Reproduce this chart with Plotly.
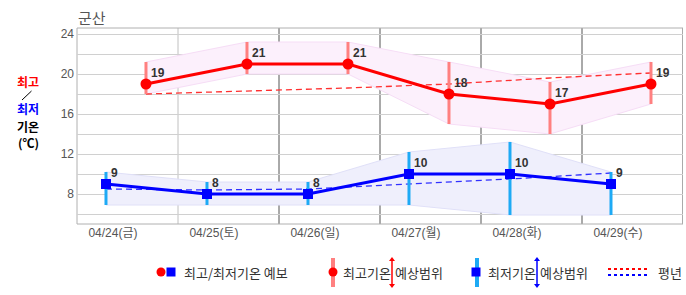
import plotly.graph_objects as go

# ---------------- data ----------------
dates = ["04/24(금)", "04/25(토)", "04/26(일)", "04/27(월)", "04/28(화)", "04/29(수)"]
max_temp = [19, 21, 21, 18, 17, 19]
min_temp = [9, 8, 8, 10, 10, 9]
max_upper = [21.2, 23.2, 23.2, 21.2, 19.2, 21.2]
max_lower = [18.0, 20.0, 20.0, 15.0, 14.0, 17.0]
min_upper = [10.2, 9.2, 9.2, 12.2, 13.2, 10.2]
min_lower = [6.9, 6.9, 6.9, 6.9, 5.9, 5.9]
normal_max = [18.0, 18.3, 18.6, 19.0, 19.6, 20.1]
normal_min = [8.5, 8.4, 8.5, 9.0, 9.5, 10.1]
y_ticks = [8, 12, 16, 20, 24]

# ---------------- layout helpers ----------------
W, H = 686, 295
L, R, T, B = 77, 683, 28, 224
def PX(x):
    return (x - L) / (R - L)
def PY(y):
    return (B - y) / (B - T)

n = len(dates)
idx = list(range(n))
x_max = [i + 0.683 for i in idx]
x_min = [i + 0.287 for i in idx]
x_lab = [i + 0.356 for i in idx]

RED = "#ff0000"
BLUE = "#0000ff"
PINK_BAR = "#ff8080"
CYAN_BAR = "#1eaaf5"

fig = go.Figure()

# bands
fig.add_trace(go.Scatter(
    x=x_max + x_max[::-1], y=max_upper + max_lower[::-1],
    fill="toself", fillcolor="#fcf0fc", mode="lines",
    line=dict(color="#f6ddf6", width=1), hoverinfo="skip", showlegend=False))
fig.add_trace(go.Scatter(
    x=x_min + x_min[::-1], y=min_upper + min_lower[::-1],
    fill="toself", fillcolor="#efeffc", mode="lines",
    line=dict(color="#e0e0f8", width=1), hoverinfo="skip", showlegend=False))

# normals
fig.add_trace(go.Scatter(x=x_max, y=normal_max, mode="lines",
                         line=dict(color="#ff3030", width=1.3, dash="6px,4px"),
                         showlegend=False, hoverinfo="skip"))
fig.add_trace(go.Scatter(x=x_min, y=normal_min, mode="lines",
                         line=dict(color="#3030ff", width=1.3, dash="6px,4px"),
                         showlegend=False, hoverinfo="skip"))

# range bars
for xs, up, lo, col in [(x_max, max_upper, max_lower, PINK_BAR),
                        (x_min, min_upper, min_lower, CYAN_BAR)]:
    bx, by = [], []
    for x, u, l in zip(xs, up, lo):
        bx += [x, x, None]
        by += [l, u, None]
    fig.add_trace(go.Scatter(x=bx, y=by, mode="lines",
                             line=dict(color=col, width=3),
                             showlegend=False, hoverinfo="skip"))

# forecast lines
fig.add_trace(go.Scatter(x=x_max, y=max_temp, mode="lines+markers",
                         line=dict(color=RED, width=3),
                         marker=dict(symbol="circle", size=11, color=RED),
                         showlegend=False))
fig.add_trace(go.Scatter(x=x_min, y=min_temp, mode="lines+markers",
                         line=dict(color=BLUE, width=3),
                         marker=dict(symbol="square", size=10, color=BLUE),
                         showlegend=False))

annotations = []
for xs, ys in [(x_max, max_temp), (x_min, min_temp)]:
    for x, y in zip(xs, ys):
        annotations.append(dict(x=x, y=y, xref="x", yref="y", text="<b>%d</b>" % y,
                                showarrow=False, xanchor="left", yanchor="bottom",
                                xshift=3, yshift=2,
                                font=dict(size=12, color="#333333",
                                          family="Liberation Sans, Arial, sans-serif")))

# title
annotations.append(dict(x=PX(76), y=PY(17), xref="paper", yref="paper", text="군산",
                        showarrow=False, xanchor="left", yanchor="middle",
                        font=dict(size=15, color="#555555", family="Noto Sans CJK KR")))

# left axis label
for txt, col, yy in [("최고", RED, 81), ("최저", BLUE, 109), ("기온", "#000000", 127),
                     ("(℃)", "#000000", 142)]:
    annotations.append(dict(x=PX(28), y=PY(yy), xref="paper", yref="paper",
                            text="<b>%s</b>" % txt, showarrow=False,
                            xanchor="center", yanchor="middle",
                            font=dict(size=12, color=col, family="Noto Sans CJK KR")))

shapes = []
shapes.append(dict(type="line", xref="paper", yref="paper",
                   x0=PX(22), y0=PY(100), x1=PX(31.5), y1=PY(91),
                   line=dict(color="#000000", width=1)))

# vertical separators
for i in range(1, n + 1):
    shapes.append(dict(type="line", xref="x", yref="paper", x0=i, x1=i, y0=0, y1=1,
                       line=dict(color="#c0c0c0" if i == 1 else "#555555", width=1),
                       layer="below"))
# borders
shapes.append(dict(type="line", xref="paper", yref="paper", x0=0, x1=1, y0=1, y1=1,
                   line=dict(color="#b0b0b0", width=1), layer="below"))
shapes.append(dict(type="line", xref="paper", yref="paper", x0=0, x1=1, y0=0, y1=0,
                   line=dict(color="#b0b0b0", width=1), layer="below"))
shapes.append(dict(type="line", xref="paper", yref="paper", x0=0, x1=0, y0=0, y1=1,
                   line=dict(color="#b0b0b0", width=1), layer="below"))

# ---------------- custom legend ----------------
LY = 272
lfont = dict(size=13, color="#333333", family="Noto Sans CJK KR")
def circ(cx, cy, r, col):
    return dict(type="circle", xref="paper", yref="paper",
                x0=PX(cx - r), x1=PX(cx + r), y0=PY(cy + r), y1=PY(cy - r),
                fillcolor=col, line=dict(width=0))
def rect(cx, cy, r, col):
    return dict(type="rect", xref="paper", yref="paper",
                x0=PX(cx - r), x1=PX(cx + r), y0=PY(cy + r), y1=PY(cy - r),
                fillcolor=col, line=dict(width=0))
def vline(x, y0, y1, col, w):
    return dict(type="line", xref="paper", yref="paper", x0=PX(x), x1=PX(x),
                y0=PY(y0), y1=PY(y1), line=dict(color=col, width=w))
def arrow(x, y0, y1, col):
    out = [vline(x, y0 + 3, y1 - 3, col, 1.5)]
    out.append(dict(type="path", xref="paper", yref="paper",
                    path="M %f,%f L %f,%f L %f,%f Z" % (PX(x - 3), PY(y0 + 4), PX(x + 3), PY(y0 + 4), PX(x), PY(y0)),
                    fillcolor=col, line=dict(width=0)))
    out.append(dict(type="path", xref="paper", yref="paper",
                    path="M %f,%f L %f,%f L %f,%f Z" % (PX(x - 3), PY(y1 - 4), PX(x + 3), PY(y1 - 4), PX(x), PY(y1)),
                    fillcolor=col, line=dict(width=0)))
    return out

shapes.append(circ(161, LY, 4.5, RED))
shapes.append(rect(171, LY, 4.5, BLUE))
annotations.append(dict(x=PX(182), y=PY(LY), xref="paper", yref="paper", text="최고/최저기온 예보",
                        showarrow=False, xanchor="left", yanchor="middle", font=lfont))

shapes.append(vline(333, 258, 287, PINK_BAR, 4))
shapes.append(circ(333, LY, 4.5, RED))
annotations.append(dict(x=PX(341), y=PY(LY), xref="paper", yref="paper", text="최고기온",
                        showarrow=False, xanchor="left", yanchor="middle", font=lfont))
shapes += arrow(392, 257, 288, RED)
annotations.append(dict(x=PX(393), y=PY(LY), xref="paper", yref="paper", text="예상범위",
                        showarrow=False, xanchor="left", yanchor="middle", font=lfont))

shapes.append(vline(477, 258, 287, CYAN_BAR, 4))
shapes.append(rect(476, LY, 4.5, BLUE))
annotations.append(dict(x=PX(486), y=PY(LY), xref="paper", yref="paper", text="최저기온",
                        showarrow=False, xanchor="left", yanchor="middle", font=lfont))
shapes += arrow(537, 257, 288, BLUE)
annotations.append(dict(x=PX(538), y=PY(LY), xref="paper", yref="paper", text="예상범위",
                        showarrow=False, xanchor="left", yanchor="middle", font=lfont))

shapes.append(dict(type="line", xref="paper", yref="paper", x0=PX(608), x1=PX(647),
                   y0=PY(269), y1=PY(269), line=dict(color=RED, width=2, dash="3px,3px")))
shapes.append(dict(type="line", xref="paper", yref="paper", x0=PX(608), x1=PX(647),
                   y0=PY(275), y1=PY(275), line=dict(color=BLUE, width=2, dash="3px,3px")))
annotations.append(dict(x=PX(656), y=PY(LY), xref="paper", yref="paper", text="평년",
                        showarrow=False, xanchor="left", yanchor="middle", font=lfont))

fig.update_layout(
    width=W, height=H,
    margin=dict(l=L, r=W - R, t=T, b=H - B),
    paper_bgcolor="white", plot_bgcolor="white",
    showlegend=False,
    xaxis=dict(range=[0, n], tickvals=x_lab, ticktext=dates, showgrid=False,
               zeroline=False, showline=False, ticks="", fixedrange=True,
               tickfont=dict(size=12, color="#555555",
                             family="Liberation Sans, Noto Sans CJK KR, sans-serif")),
    yaxis=dict(range=[5, 24.6], tickvals=y_ticks, showgrid=True, gridcolor="#d0d0d0",
               gridwidth=1, zeroline=False, showline=False, ticks="",
               minor=dict(dtick=2, tick0=0, showgrid=True, gridcolor="#d0d0d0", gridwidth=1),
               tickfont=dict(size=12, color="#555555",
                             family="Liberation Sans, Arial, sans-serif"),
               ticklabelstandoff=2),
    shapes=shapes,
    annotations=annotations,
)

fig.write_html("out.html")
